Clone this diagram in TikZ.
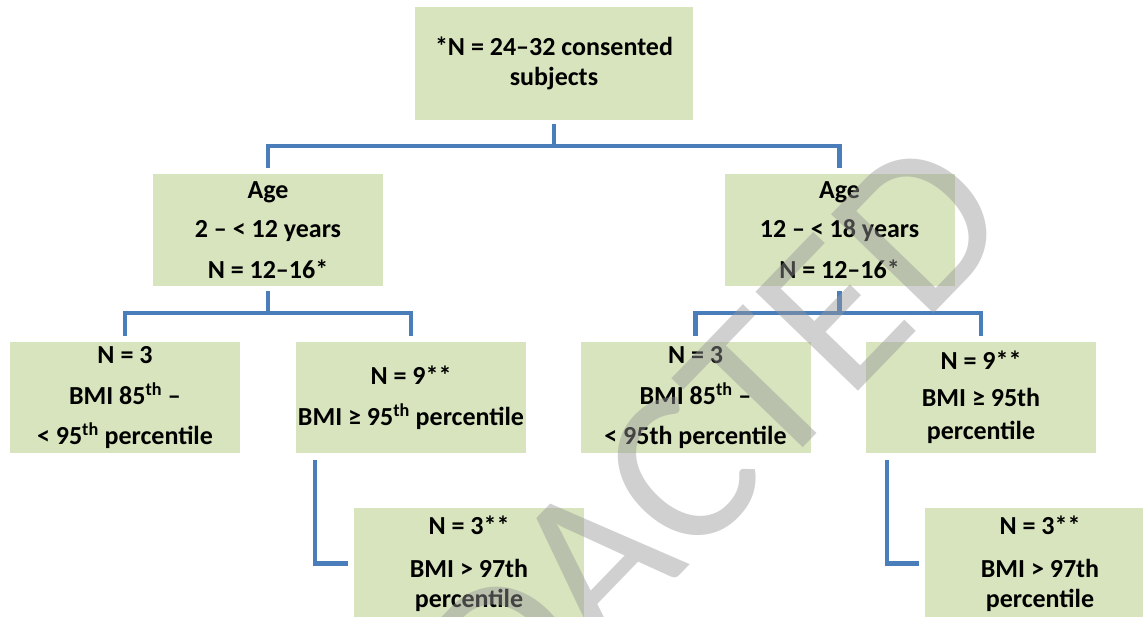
\documentclass[tikz,border=0pt]{standalone}
\usepackage{fontspec}
\setmainfont{Carlito}
\definecolor{boxgreen}{HTML}{D7E4BD}
\definecolor{connblue}{HTML}{4A7EBB}
\definecolor{markgray}{RGB}{150,150,150}
\begin{document}
\begin{tikzpicture}[x=1pt,y=-1pt]
       \tikzstyle{boxnode}=[fill=boxgreen, inner sep=0pt, minimum width=230pt, minimum height=111pt, align=center, font=\fontsize{26}{30}\selectfont\bfseries]
       \tikzstyle{connline}=[draw=connblue, line width=4.5pt]
       \useasboundingbox (0,0) rectangle (1143,617);
       \clip (0,0) rectangle (1143,617);
       % first level
       \node[boxnode, minimum width=278pt, minimum height=113pt] (top) at (554,63.5) {*N = 24–32 consented\\subjects};
       \node[boxnode, minimum height=112pt] (ageL) at (268,230) {Age\\[9pt]2 – < 12 years\\[11pt]N = 12–16*};
       \node[boxnode, minimum height=112pt] (ageR) at (839.5,230) {Age\\[9pt]12 – < 18 years\\[11pt]N = 12–16*};
       % second level
       \node[boxnode] (ll) at (125,397.5) {N = 3\\[11pt]BMI 85\textsuperscript{th} –\\[10pt]< 95\textsuperscript{th} percentile};
       \node[boxnode] (lr) at (411,397.5) {N = 9**\\[11pt]BMI ≥ 95\textsuperscript{th} percentile};
       \node[boxnode] (rl) at (695.5,397.5) {N = 3\\[11pt]BMI 85\textsuperscript{th} –\\[10pt]< 95th percentile};
       \node[boxnode] (rr) at (981,397.5) {N = 9**\\[7pt]BMI ≥ 95th\\[3pt]percentile};
       % third level
       \node[boxnode] (bl) at (469,563.5) {N = 3**\\[13pt]BMI > 97th\\percentile};
       \node[boxnode] (br) at (1040,563.5) {N = 3**\\[13pt]BMI > 97th\\percentile};
       % connectors
       \draw[connline] ([yshift=-4pt]top.south) -- ([yshift=-26pt]top.south);
       \draw[connline] ([yshift=6pt]ageL.north) |- ([yshift=-26pt]top.south) -| ([yshift=6pt]ageR.north);
       \draw[connline] ([yshift=-5pt]ageL.south) -- ([yshift=-27pt]ageL.south);
       \draw[connline] ([yshift=6pt]ll.north) |- ([yshift=-27pt]ageL.south) -| ([yshift=6pt]lr.north);
       \draw[connline] ([yshift=-5pt]ageR.south) -- ([yshift=-27pt]ageR.south);
       \draw[connline] ([yshift=6pt]rl.north) |- ([yshift=-27pt]ageR.south) -| ([yshift=6pt]rr.north);
       \draw[connline] ([xshift=19pt,yshift=-7pt]lr.south west) |- ([xshift=-6pt]bl.west);
       \draw[connline] ([xshift=21pt,yshift=-7pt]rr.south west) |- ([xshift=-6pt]br.west);
       % watermark
       \node[rotate=46, text=markgray, text opacity=0.45, font=\fontsize{222}{222}\selectfont] (mark) at (633,522) {REDACTED};
\end{tikzpicture}
\end{document}
